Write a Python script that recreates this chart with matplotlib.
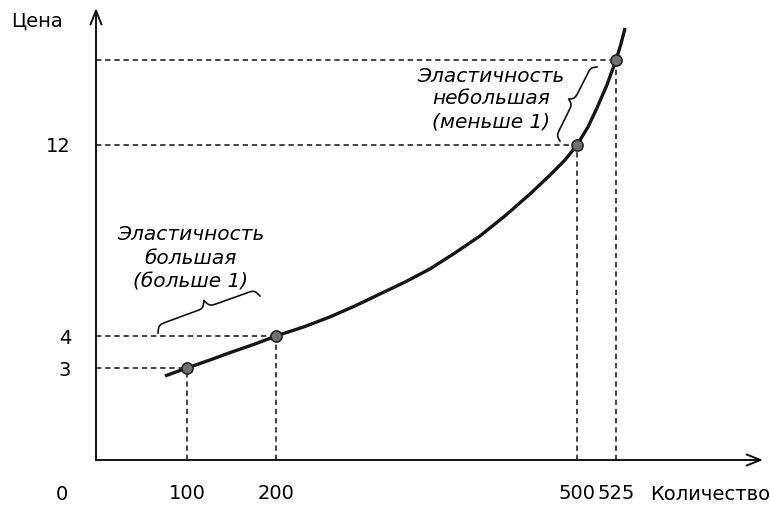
import numpy as np
import matplotlib
matplotlib.use("Agg")
import matplotlib.pyplot as plt
from matplotlib.lines import Line2D

plt.rcParams['font.family'] = ['DejaVu Sans']

# data (axes are schematic, not to scale)
qty = [100, 200, 500, 525]
price = [3, 4, 12, 15]
x_labels = ['100', '200', '500', '525']
y_ticks = [3, 4, 12]
y_labels = ['3', '4', '12']

# supply curve, points
curve_q = [75.8, 100, 125.8, 148.3, 176.4, 200, 228.9, 253.8, 278.7, 303.6,
           328.6, 353.5, 378.4, 403.3, 428.2, 453.2, 473.1, 488.0, 500,
           507.1, 512.8, 519.2, 525, 528.2, 530.8]
curve_p = [2.74, 3, 3.25, 3.48, 3.75, 4, 4.40, 4.80, 5.26, 5.76,
           6.26, 6.81, 7.48, 8.19, 9.03, 9.95, 10.74, 11.37, 12,
           12.64, 13.31, 14.12, 15, 15.57, 16.13]

text_big = 'Эластичность\nбольшая\n(больше 1)'
text_small = 'Эластичность\nнебольшая\n(меньше 1)'

# schematic (piecewise) scales: value anchors -> pixel distance from origin
q_anchor = np.array([0, 100, 200, 500, 525, 650])
q_pix = np.array([0, 91, 180, 481, 520, 715])
p_anchor = np.array([0, 3, 4, 12, 15, 20])
p_pix = np.array([0, 92, 124, 315, 400, 541.5])

W, H = 770, 505
ox, oy = 96, 460          # origin in image pixels
xr, yt = 763, 8           # arrow tips

fig = plt.figure(figsize=(W / 100, H / 100), dpi=100)
ax = fig.add_axes([ox / W, (H - oy) / H, (xr - ox) / W, (oy - yt) / H])

ax.set_xscale('function', functions=(lambda v: np.interp(v, q_anchor, q_pix),
                                     lambda v: np.interp(v, q_pix, q_anchor)))
ax.set_yscale('function', functions=(lambda v: np.interp(v, p_anchor, p_pix),
                                     lambda v: np.interp(v, p_pix, p_anchor)))
ax.set_xlim(0, np.interp(xr - ox, q_pix, q_anchor))
ax.set_ylim(0, np.interp(oy - yt, p_pix, p_anchor))

for s in ax.spines.values():
    s.set_visible(False)

# axes as arrows
arr = dict(arrowstyle='->,head_length=1.0,head_width=0.4', lw=1.4, color='#111111',
           shrinkA=0, shrinkB=0)
ax.annotate('', xy=(1, 0), xytext=(0, 0), xycoords='axes fraction', arrowprops=arr)
ax.annotate('', xy=(0, 1), xytext=(0, 0), xycoords='axes fraction', arrowprops=arr)

# dashed guides
for q, p in zip(qty, price):
    ax.plot([0, q], [p, p], color='#111111', lw=1.1, ls=(0, (3.5, 2.5)), clip_on=False)
    ax.plot([q, q], [0, p], color='#111111', lw=1.1, ls=(0, (3.5, 2.5)), clip_on=False)

ax.plot(curve_q, curve_p, color='#151515', lw=2.4, solid_capstyle='butt',
        solid_joinstyle='round', clip_on=False, zorder=3)
ax.plot(qty, price, 'o', ms=8, mfc='#707070', mec='#222222', mew=1.2,
        clip_on=False, zorder=4)

ax.set_xticks(qty, x_labels)
ax.set_yticks(y_ticks, y_labels)
ax.tick_params(axis='x', length=0, pad=17, labelsize=14)
ax.tick_params(axis='y', length=0, pad=18, labelsize=14)
ax.minorticks_off()


def fx(x, y):
    return x / W, 1 - y / H


fig.text(*fx(62, 494), '0', fontsize=14, ha='center', va='center')
fig.text(*fx(650, 494), 'Количество', fontsize=14, ha='left', va='center')
fig.text(*fx(37, 21), 'Цена', fontsize=14, ha='center', va='center')

fig.text(*fx(191, 258), text_big, fontsize=14.5, style='italic', ha='center',
         va='center', multialignment='center', linespacing=1.3)
fig.text(*fx(491, 99), text_small, fontsize=14.5, style='italic', ha='center',
         va='center', multialignment='center', linespacing=1.25)


def brace(x0, y0, x1, y1, w, beta=0.6):
    p0 = np.array([x0, H - y0], float)
    p1 = np.array([x1, H - y1], float)
    d = p1 - p0
    L = np.hypot(*d)
    u = d / L
    n = np.array([-u[1], u[0]])
    t = np.linspace(0, L / 2, 80)
    half = 1 / (1 + np.exp(-beta * t)) + 1 / (1 + np.exp(-beta * (t - L / 2)))
    s = w * (half - 0.5)
    tt = np.concatenate([t, L - t[::-1]])
    ss = np.concatenate([s, s[::-1]])
    pts = p0[None, :] + tt[:, None] * u[None, :] + ss[:, None] * n[None, :]
    fig.add_artist(Line2D(pts[:, 0] / W, pts[:, 1] / H, color='#111111', lw=1.2,
                          transform=fig.transFigure))


brace(158, 333, 260, 296, 15)
brace(560, 141, 597, 67, 11)

fig.savefig('out.png', dpi=100)
